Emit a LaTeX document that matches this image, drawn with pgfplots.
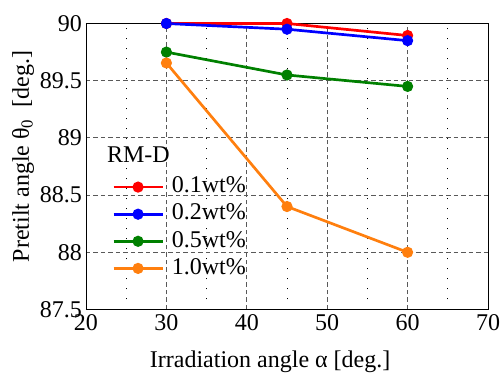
\documentclass[border=0pt]{standalone}
\usepackage{fontspec}
\setmainfont{Liberation Serif}
\newfontfamily\tickfont{Liberation Serif}
\usepackage{pgfplots}
\pgfplotsset{compat=1.18}
\definecolor{mporange}{RGB}{255,127,14}
\definecolor{mpgreen}{RGB}{0,128,0}
\begin{document}
\fontsize{24bp}{28bp}\selectfont
\begin{tikzpicture}
\begin{axis}[
  name=ax,
  scale only axis,
  width=402bp, height=286bp,
  xmin=20, xmax=70, ymin=87.5, ymax=90,
  xtick={20,30,40,50,60,70},
  xticklabels={20,30,40,50,60,70},
  ytick={87.5,88,88.5,89,89.5,90},
  yticklabels={87.5,88,88.5,89,89.5,90},
  minor x tick num=1,
  major tick length=0pt, minor tick length=0pt,
  xmajorgrids, ymajorgrids, xminorgrids,
  major grid style={black!65, line width=1pt, dash pattern=on 4.5bp off 3bp},
  minor grid style={black, line width=1pt, dash pattern=on 1bp off 9bp},
  axis line style={black, line width=1pt},
  tick label style={font=\tickfont\fontsize{24bp}{28bp}\selectfont},
  xticklabel style={inner sep=0pt, yshift=-5bp},
  yticklabel style={inner sep=0pt, xshift=-4bp},
  label style={font=\fontsize{24bp}{28bp}\selectfont},
  xlabel={Irradiation angle α [deg.]},
  ylabel={Pretilt angle θ\textsubscript{0}~~[deg.]},
  xlabel style={at={([yshift=-58bp]axis description cs:0.458,0)}, anchor=base, inner sep=0pt},
  ylabel style={at={([xshift=-63bp]axis description cs:0,0.535)}, anchor=center, inner sep=0pt},
  legend style={at={(0.0647,0.468)}, anchor=north west, draw=none, fill=none,
    font=\fontsize{24bp}{28bp}\selectfont, row sep=4.6bp, column sep=8bp, inner sep=0pt,
    nodes={inner sep=0pt, text height=17bp, text depth=5.5bp}},
  legend cell align=left,
  legend image code/.code={\draw[#1] (0bp,0bp) -- (49bp,0bp);
    \draw[#1, only marks] plot coordinates {(24.5bp,0bp)};},
  every axis plot/.append style={line width=2.7pt, mark=*, mark size=4.2pt},
  clip=false,
]
\addplot[red, mark options={fill=red}] coordinates {(30,90.0) (45,90.0) (60,89.895)};
\addlegendentry{0.1wt\%}
\addplot[blue, mark options={fill=blue}] coordinates {(30,90.0) (45,89.95) (60,89.85)};
\addlegendentry{0.2wt\%}
\addplot[mpgreen, mark options={fill=mpgreen}] coordinates {(30,89.75) (45,89.55) (60,89.45)};
\addlegendentry{0.5wt\%}
\addplot[mporange, mark options={fill=mporange}] coordinates {(30,89.655) (45,88.4) (60,88.0)};
\addlegendentry{1.0wt\%}
\node[anchor=west, inner sep=0pt] at (rel axis cs:0.052,0.54) {RM-D};
\end{axis}
\pgfresetboundingbox
\path ([shift={(-86bp,-66.5bp)}]ax.south west) rectangle ++(501bp,376bp);
\end{tikzpicture}
\end{document}
